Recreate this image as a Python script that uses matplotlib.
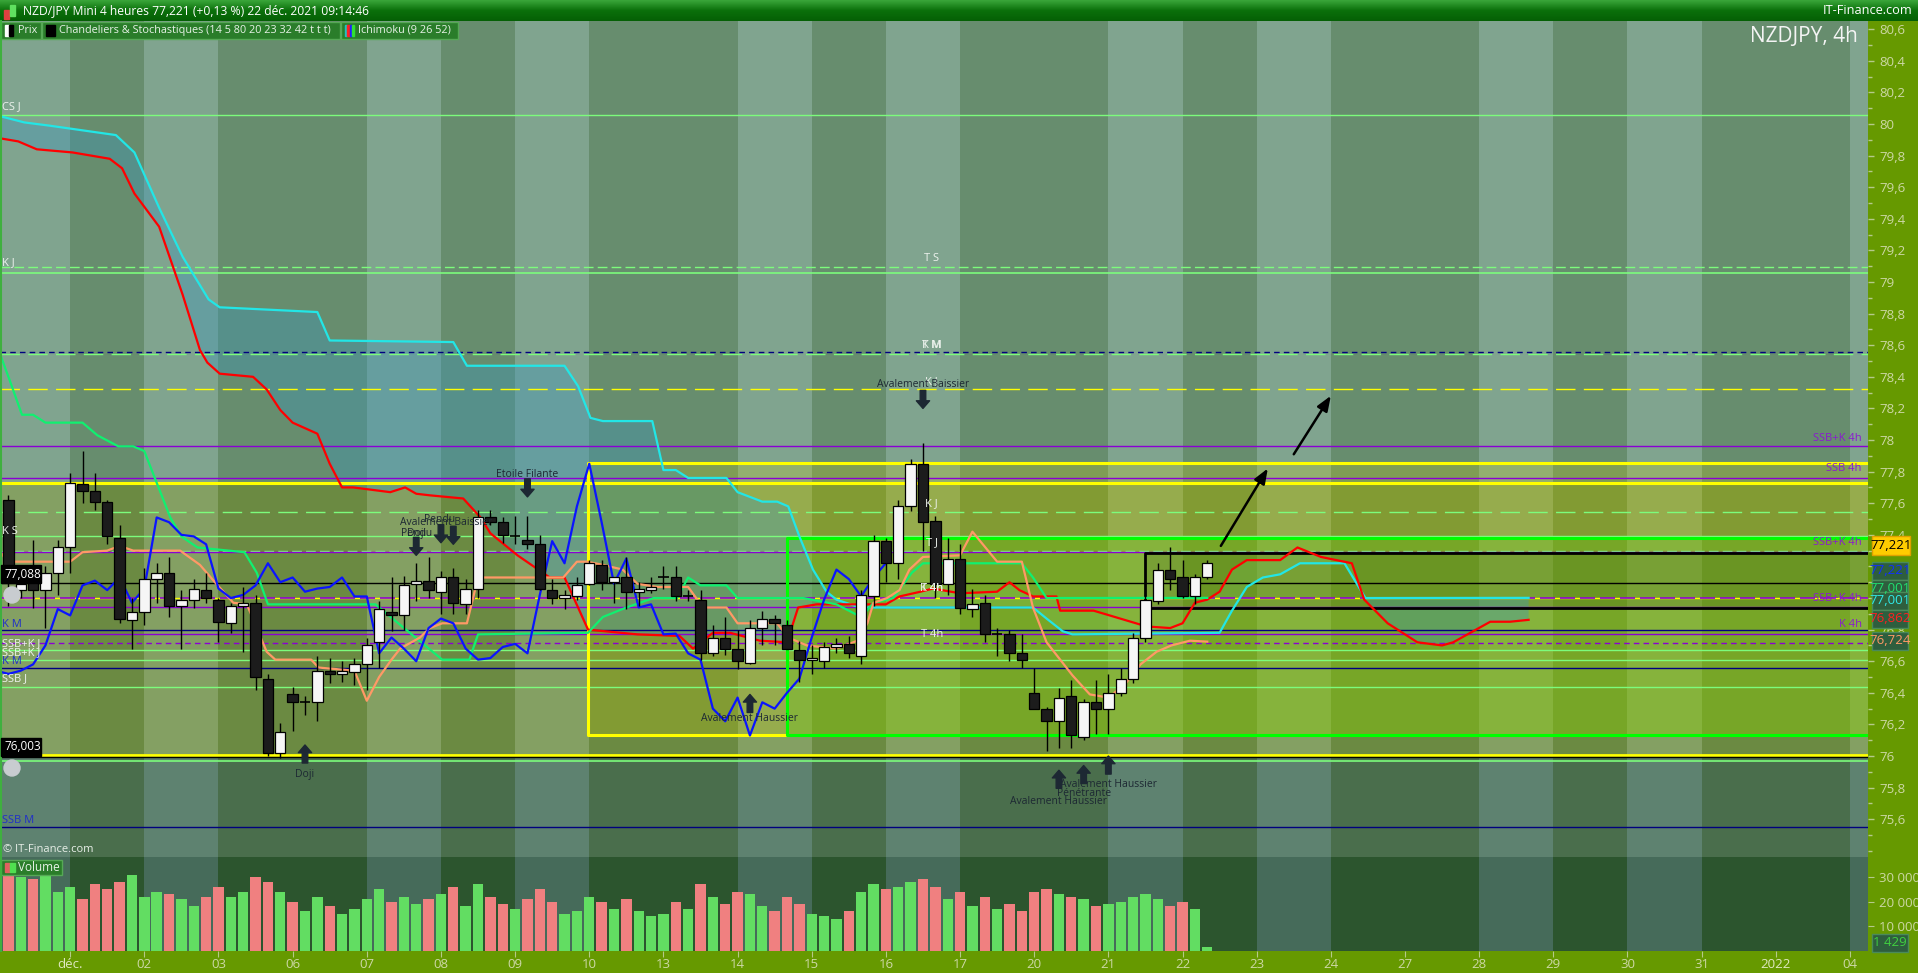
import numpy as np
import pandas as pd
import matplotlib
matplotlib.use("Agg")
import matplotlib.pyplot as plt
from matplotlib.patches import Rectangle
from matplotlib.ticker import FixedLocator, FuncFormatter, MultipleLocator
from matplotlib.colors import LinearSegmentedColormap

plt.rcParams['font.family'] = ['Open Sans', 'DejaVu Sans']

W, H = 1918, 973

# ---------------- data ----------------
days = pd.bdate_range('2021-11-30', '2022-01-04')      # one day = 6 candles of 4h
day_labels = ['déc.' if d.day == 1 else ('2022' if (d.month == 1 and d.day == 3) else f'{d.day:02d}')
              for d in days]

opens = [77.62, 77.05, 77.11, 77.05, 77.16, 77.32, 77.72, 77.68, 77.61, 77.38,
         76.86, 76.91, 77.12, 77.16, 76.95, 76.99, 77.05, 76.99, 76.84, 76.95,
         76.97, 76.49, 76.02, 76.39, 76.34, 76.34, 76.54, 76.52, 76.53, 76.58,
         76.72, 76.91, 76.89, 77.09, 77.11, 77.04, 77.13, 76.96, 77.06, 77.51,
         77.48, 77.39, 77.37, 77.34, 77.05, 77.00, 77.01, 77.09, 77.21, 77.10,
         77.13, 77.04, 77.05, 77.13, 77.13, 77.01, 76.99, 76.65, 76.75, 76.68,
         76.59, 76.81, 76.87, 76.83, 76.67, 76.61, 76.60, 76.69, 76.71, 76.63,
         77.01, 77.36, 77.22, 77.58, 77.85, 77.49, 77.09, 77.25, 76.93, 76.97,
         76.77, 76.77, 76.65, 76.40, 76.30, 76.22, 76.38, 76.12, 76.34, 76.30,
         76.40, 76.49, 76.75, 76.98, 77.18, 77.13, 77.01, 77.13]
highs = [77.65, 77.15, 77.37, 77.20, 77.37, 77.79, 77.93, 77.79, 77.62, 77.46,
         77.00, 77.19, 77.22, 77.26, 77.05, 77.12, 77.16, 77.00, 76.97, 77.07,
         77.02, 76.52, 76.21, 76.44, 76.38, 76.63, 76.62, 76.60, 76.62, 76.75,
         76.98, 77.13, 77.14, 77.22, 77.26, 77.17, 77.19, 77.12, 77.56, 77.56,
         77.51, 77.52, 77.52, 77.40, 77.12, 77.05, 77.13, 77.24, 77.24, 77.13,
         77.26, 77.10, 77.13, 77.20, 77.20, 77.05, 77.05, 76.83, 76.88, 76.80,
         76.86, 76.92, 76.89, 76.86, 76.73, 76.70, 76.72, 76.75, 76.76, 77.05,
         77.40, 77.38, 77.62, 77.88, 77.98, 77.52, 77.38, 77.34, 77.06, 77.02,
         76.81, 76.80, 76.77, 76.56, 76.31, 76.43, 76.48, 76.36, 76.48, 76.52,
         76.56, 76.78, 77.02, 77.22, 77.32, 77.24, 77.15, 77.24]
lows = [76.95, 77.00, 76.94, 76.81, 77.02, 77.16, 77.60, 77.56, 77.34, 76.84,
        76.68, 76.83, 76.97, 76.88, 76.68, 76.94, 76.97, 76.72, 76.78, 76.66,
        76.42, 76.00, 75.99, 76.16, 76.26, 76.22, 76.46, 76.47, 76.45, 76.42,
        76.56, 76.79, 76.80, 76.98, 77.00, 76.90, 76.90, 76.90, 77.00, 77.46,
        77.35, 77.34, 77.31, 77.05, 76.96, 76.93, 76.99, 77.08, 77.05, 76.97,
        76.93, 76.95, 77.03, 77.06, 76.98, 76.98, 76.61, 76.63, 76.64, 76.55,
        76.58, 76.70, 76.70, 76.68, 76.47, 76.52, 76.56, 76.65, 76.62, 76.58,
        76.95, 77.10, 77.12, 77.55, 77.30, 77.00, 77.02, 76.90, 76.88, 76.72,
        76.63, 76.60, 76.56, 76.30, 76.03, 76.05, 76.05, 76.10, 76.14, 76.14,
        76.38, 76.46, 76.72, 76.96, 77.05, 77.00, 76.96, 77.12]
closes = [77.12, 77.09, 77.05, 77.16, 77.32, 77.73, 77.68, 77.61, 77.39, 76.87,
          76.91, 77.12, 77.16, 76.95, 76.99, 77.06, 77.00, 76.85, 76.95, 76.97,
          76.50, 76.02, 76.15, 76.34, 76.345, 76.54, 76.52, 76.54, 76.58, 76.70,
          76.93, 76.89, 77.08, 77.11, 77.05, 77.13, 76.97, 77.06, 77.51, 77.48,
          77.40, 77.39, 77.34, 77.06, 77.00, 77.02, 77.08, 77.22, 77.10, 77.13,
          77.04, 77.06, 77.07, 77.13, 77.01, 77.01, 76.65, 76.75, 76.68, 76.60,
          76.81, 76.87, 76.84, 76.68, 76.61, 76.62, 76.69, 76.71, 76.65, 77.02,
          77.36, 77.22, 77.58, 77.85, 77.48, 77.09, 77.25, 76.94, 76.96, 76.77,
          76.775, 76.65, 76.61, 76.30, 76.22, 76.37, 76.13, 76.34, 76.30, 76.40,
          76.49, 76.75, 76.99, 77.18, 77.12, 77.01, 77.13, 77.221]
volumes = [31000, 30000, 29000, 31500, 24000, 26000, 21000, 27000, 25000, 28000,
           31000, 22000, 24000, 23000, 21000, 18000, 22000, 26000, 22000, 24000,
           30000, 28000, 24000, 20000, 16000, 22000, 18000, 15000, 17000, 21000,
           25000, 20000, 22000, 19000, 21000, 23000, 26000, 18000, 27000, 22000,
           19000, 17000, 21000, 25000, 20000, 15000, 16000, 22000, 20000, 17000,
           21000, 16000, 14000, 15000, 20000, 17000, 27000, 22000, 19000, 24000,
           23000, 18000, 16000, 22000, 19000, 15000, 14000, 13000, 16000, 24000,
           27000, 25000, 26000, 28000, 29000, 26000, 21000, 24000, 18000, 22000,
           17000, 19000, 16000, 24000, 25000, 23000, 22000, 21000, 18000, 19000,
           20000, 22000, 23000, 21000, 18000, 20000, 17000, 1429]
first_u = 1                       # candle slot index of first visible candle

# Ichimoku lines: (slot index, price)
tenkan_u = [0.3, 0.9, 6, 7, 9, 10, 11.1, 14.9, 16.5, 17.6, 19.2, 20.3, 21.9, 22.6, 25.5, 26.1, 29, 30,
            31, 32, 32.7, 34.3, 35.1, 36.1, 38.1, 39, 45.9, 47, 47.8, 49.1, 50.7, 51.9, 53.5, 56, 57.2,
            59.1, 60, 63.2, 64.1, 65.6, 68, 69.7, 70.5, 71, 72.1, 73.1, 73.9, 75, 78, 79, 81, 83, 83.9,
            85, 86.1, 87.1, 88.5, 90, 91.3, 92.6, 93.9, 95.1, 96.6, 98]
tenkan_p = [77.30, 77.23, 77.23, 77.29, 77.30, 77.33, 77.30, 77.30, 77.21, 77.11, 76.97, 76.96, 76.66,
            76.61, 76.61, 76.56, 76.54, 76.35, 76.50, 76.61, 76.68, 76.75, 76.81, 76.84, 76.84, 77.13,
            77.13, 77.23, 77.23, 77.21, 77.18, 77.09, 77.07, 77.07, 76.94, 76.94, 76.84, 76.84, 76.75,
            76.70, 76.68, 76.73, 76.84, 76.97, 77.00, 77.05, 77.18, 77.26, 77.27, 77.42, 77.23, 77.23,
            76.94, 76.72, 76.61, 76.51, 76.39, 76.37, 76.45, 76.58, 76.66, 76.70, 76.73, 76.724]
kijun_u = [0.3, 1.1, 2.1, 3, 4, 7, 8.2, 9.9, 11.1, 12, 13, 14.1, 15, 16.3, 20.1, 21.1, 22, 30.7, 36.1,
           38.3, 39, 47.9, 49.1, 51, 53.2, 55.1, 56, 57, 59.1, 60, 65.3, 68, 70, 71, 72.6, 74.1, 75, 83,
           83.9, 85, 98]
kijun_p = [78.55, 78.38, 78.16, 78.16, 78.11, 78.11, 78.03, 77.96, 77.96, 77.93, 77.73, 77.51, 77.39,
           77.32, 77.29, 77.16, 76.96, 76.96, 76.61, 76.61, 76.77, 76.78, 76.88, 76.94, 77.00, 77.00,
           77.13, 77.08, 77.08, 77.00, 77.00, 76.96, 76.88, 76.97, 77.00, 77.16, 77.22, 77.22, 77.13,
           77.00, 77.001]
ssa_u = [0.3, 1.8, 3.3, 6.2, 9.2, 10.2, 11.2, 13.2, 15.1, 16.5, 17.1, 18.1, 20.8, 21.9, 23, 24, 26, 27,
         28, 28.9, 31.9, 33.1, 34, 35.1, 37.8, 39.2, 40, 42.2, 44.8, 46, 47.9, 51.9, 55.3, 56.4, 58,
         59.4, 61.8, 64, 64.9, 66.4, 72, 73.1, 74.8, 75.8, 78, 81, 82, 82.8, 83.9, 85.8, 86.1, 88.8,
         90.1, 93.1, 95, 96, 97, 98, 99, 100, 101.2, 103.9, 105.3, 107.2, 109.7, 110.7, 112.6, 115,
         117, 117.9, 120.9, 122.5, 124]
ssa_p = [79.91, 79.89, 79.84, 79.82, 79.78, 79.72, 79.56, 79.35, 78.92, 78.57, 78.49, 78.42, 78.40,
         78.32, 78.19, 78.11, 78.04, 77.85, 77.70, 77.70, 77.67, 77.70, 77.66, 77.65, 77.63, 77.51,
         77.41, 77.27, 77.13, 77.13, 76.80, 76.77, 76.76, 76.68, 76.78, 76.78, 76.73, 76.72, 76.94,
         76.96, 76.96, 77.01, 77.04, 77.06, 77.03, 77.04, 77.10, 77.05, 77.01, 77.01, 76.92, 76.92,
         76.89, 76.82, 76.81, 76.84, 76.97, 76.99, 77.04, 77.18, 77.24, 77.24, 77.32, 77.26, 77.22,
         76.99, 76.84, 76.72, 76.70, 76.72, 76.85, 76.85, 76.862]
ssb_u = [0.3, 2.3, 4.3, 9.7, 11.2, 13.2, 15.1, 17.2, 18.1, 26, 27, 37, 38.1, 46, 47.1, 48.1, 49.1,
         53.1, 54, 55, 56, 59.1, 60, 62, 63.2, 64.1, 65, 66.1, 67.2, 68, 69.9, 83.9, 85, 86.3, 87.1,
         99, 100, 101.2, 102.5, 103.9, 105.5, 109.1, 110.8, 124]
ssb_p = [80.05, 80.01, 79.99, 79.93, 79.82, 79.47, 79.16, 78.89, 78.84, 78.81, 78.63, 78.62, 78.47,
         78.47, 78.34, 78.14, 78.12, 78.12, 77.81, 77.81, 77.76, 77.76, 77.67, 77.61, 77.61, 77.58,
         77.39, 77.18, 77.04, 76.99, 76.94, 76.94, 76.87, 76.79, 76.77, 76.78, 76.92, 77.07, 77.13,
         77.15, 77.22, 77.22, 77.00, 77.001]
chikou_shift = 26

# horizontal levels: (price, colour, style, width)
levels = [
    (80.06, '#7cfc7c', '-', 1.0), (79.095, '#7cfc7c', (0, (7, 3)), 1.0), (79.06, '#7cfc7c', '-', 1.2),
    (78.545, '#7cfc7c', (0, (14, 6)), 1.0), (78.555, '#00007f', (0, (4, 3)), 1.0),
    (78.32, '#ffff00', (0, (14, 6)), 1.0), (77.96, '#8a00d4', '-', 1.0), (77.76, '#8a00d4', '-', 1.0),
    (77.73, '#ffff00', '-', 2.2), (77.545, '#7cfc7c', (0, (14, 6)), 1.0), (77.39, '#7cfc7c', '-', 1.0),
    (77.30, '#7cfc7c', (0, (7, 3)), 1.0), (77.29, '#8a00d4', '-', 1.0), (77.095, '#000000', '-', 1.0),
    (77.0, '#ffff00', '-', 1.0), (77.0, '#8a00d4', (0, (9, 3)), 1.2), (76.945, '#8a00d4', '-', 1.0),
    (76.80, '#00007f', '-', 1.0), (76.77, '#8a00d4', '-', 1.0), (76.715, '#8a00d4', (0, (4, 3)), 1.0),
    (76.67, '#7cfc7c', '-', 1.0), (76.61, '#7cfc7c', '-', 1.0), (76.56, '#00007f', '-', 1.0),
    (76.44, '#7cfc7c', '-', 1.0), (76.006, '#ffff00', '-', 2.0), (75.993, '#000000', '-', 1.0),
    (75.97, '#7cfc7c', '-', 1.2), (75.55, '#00007f', '-', 1.0),
]
# zones drawn as boxes: (first slot, low, high)
yellow_box = (47.9, 76.13, 77.855)
green_box = (64.0, 76.13, 77.38)
black_box = (93.0, 76.94, 77.285)

# ---------------- figure layout ----------------
fig = plt.figure(figsize=(W / 100, H / 100), dpi=100, facecolor='#669900')


def px_axes(x0, y0, x1, y1):
    return fig.add_axes([x0 / W, 1 - y1 / H, (x1 - x0) / W, (y1 - y0) / H])


ax = px_axes(0, 21, 1868, 857)
axv = px_axes(0, 857, 1868, 951)
XMIN, XMAX = 0.324, 151.46
ax.set_xlim(XMIN, XMAX)
ax.set_ylim(75.361, 80.652)
axv.set_xlim(XMIN, XMAX)
axv.set_ylim(-200, 38160)
for a in (ax, axv):
    for s in a.spines.values():
        s.set_visible(False)
    a.set_facecolor('none')

light_day = [d.weekday() in (1, 3) for d in days]
ndays = len(days) + 1


def shade(a, u0, u1, p0, p1, dark, light, z=0):
    for d in range(ndays):
        lt = light_day[d] if d < len(days) else True
        x0, x1 = max(6 * d, u0), min(6 * d + 6, u1)
        if x1 > x0:
            a.add_patch(Rectangle((x0, p0), x1 - x0, p1 - p0, color=light if lt else dark,
                                  lw=0, zorder=z))


shade(ax, 0, 160, 75.0, 81.0, '#678d6e', '#80a48f')
shade(ax, 0, 160, 75.0, 76.0, '#4a6e4c', '#5e8270', 0.1)
shade(ax, 0, 160, 76.0, 77.73, '#6b8a42', '#84a063', 0.2)
shade(axv, 0, 160, -1000, 50000, '#2c552e', '#466b5a')

ax.add_patch(Rectangle((yellow_box[0], yellow_box[1]), 160, yellow_box[2] - yellow_box[1],
                       color='#d8d800', alpha=0.22, lw=0, zorder=0.5))
ax.add_patch(Rectangle((green_box[0], green_box[1]), 160, green_box[2] - green_box[1],
                       color='#50d000', alpha=0.22, lw=0, zorder=0.6))
ax.add_patch(Rectangle((black_box[0], black_box[1]), 160, black_box[2] - black_box[1],
                       color='#000000', alpha=0.1, lw=0, zorder=0.7))

# cloud
g = np.linspace(0.3, 124, 3000)
a_ = np.interp(g, ssa_u, ssa_p)
b_ = np.interp(g, ssb_u, ssb_p)
ax.fill_between(g, a_, b_, where=b_ >= a_, color='#3a96bc', alpha=0.36, lw=0, interpolate=True, zorder=0.8)
ax.fill_between(g, a_, b_, where=b_ < a_, color='#7fd06a', alpha=0.25, lw=0, interpolate=True, zorder=0.8)

# levels
for p, c, ls, lw in levels:
    ax.axhline(p, color=c, ls=ls, lw=lw, zorder=1)

# boxes outlines
yb, gb, bb = yellow_box, green_box, black_box
ax.plot([XMAX + 1, yb[0], yb[0], gb[0]], [yb[2], yb[2], yb[1], yb[1]], color='#ffff00', lw=2.2, zorder=1.2)
ax.plot([XMAX + 1, gb[0], gb[0], XMAX + 1], [gb[2], gb[2], gb[1], gb[1]], color='#00ff00', lw=2.2, zorder=1.2)
ax.plot([XMAX + 1, bb[0], bb[0], XMAX + 1], [bb[2], bb[2], bb[1], bb[1]], color='#000000', lw=2.0, zorder=1.2)

# ichimoku
ax.plot(ssb_u, ssb_p, color='#22e6e6', lw=1.6, zorder=2)
ax.plot(ssa_u, ssa_p, color='#ff0000', lw=1.6, zorder=2)
ax.plot(kijun_u, kijun_p, color='#10f070', lw=1.6, zorder=2)
ax.plot(tenkan_u, tenkan_p, color='#ff9966', lw=1.6, zorder=2)
u = np.arange(first_u, first_u + len(closes))
ax.plot(u[u >= chikou_shift] - chikou_shift, np.array(closes)[u >= chikou_shift],
        color='#0a14ff', lw=1.6, zorder=2.1)

# candles
for x, o, h, l, c in zip(u, opens, highs, lows, closes):
    ax.vlines(x, l, h, color='black', lw=1.0, zorder=3)
    lo, hi = min(o, c), max(o, c)
    if hi - lo < 0.006:
        ax.hlines((o + c) / 2, x - 0.42, x + 0.42, color='black', lw=1.2, zorder=3.1)
    else:
        ax.add_patch(Rectangle((x - 0.42, lo), 0.84, hi - lo, facecolor='#f6f6f6' if c >= o else '#1c1c1c',
                               edgecolor='black', lw=0.9, zorder=3.1))

# volume
vcol = ['#62dd62' if c >= o else '#f08080' for o, c in zip(opens, closes)]
axv.bar(u, volumes, width=0.84, color=vcol, zorder=2)

# ---------------- axes ticks ----------------
ax.yaxis.tick_right()
ax.yaxis.set_major_locator(FixedLocator(np.round(np.arange(75.6, 80.61, 0.2), 1)))
ax.yaxis.set_minor_locator(MultipleLocator(0.1))
ax.yaxis.set_major_formatter(FuncFormatter(lambda v, _: (f'{v:.1f}'.replace('.0', '') if abs(v - round(v)) < 1e-6
                                                         else f'{v:.1f}').replace('.', ',')))
ax.tick_params(axis='y', which='both', colors='#b5c98a', labelcolor='#cdd8a6', labelsize=9.5,
               length=4, width=1, pad=4, direction='out')
ax.tick_params(axis='y', which='minor', length=3)
ax.set_xticks([])

axv.yaxis.tick_right()
axv.set_yticks([10000, 20000, 30000])
axv.set_yticklabels(['10 000', '20 000', '30 000'])
axv.tick_params(axis='y', colors='#b5c98a', labelcolor='#cdd8a6', labelsize=9.5, length=4, pad=4)
axv.set_xticks([6 * d for d in range(1, len(days))])
axv.set_xticklabels(day_labels[1:])
axv.tick_params(axis='x', colors='#b5c98a', labelcolor='#cdd8a6', labelsize=9.5, length=4, pad=1)
for t in axv.get_xticklabels():
    if t.get_text() in ('déc.', '2022'):
        t.set_color('#dfe8c0')

# ---------------- labels on the price panel ----------------
white = '#eef3ee'
left_labels = [('CS J', 80.11, white), ('K J', 79.12, white), ('K S', 77.42, white), ('K M', 76.83, '#2030c8'),
               ('SSB+K J', 76.71, white), ('SSB+K J', 76.655, white), ('K M', 76.60, '#2030c8'),
               ('SSB J', 76.49, white), ('SSB M', 75.59, '#2030c8')]
for s, p, c in left_labels:
    ax.text(0.45, p, s, color=c, fontsize=8, va='center', ha='left', zorder=5)
mid_labels = [('T S', 79.15), ('T M', 78.60), ('K M', 78.60), ('K J', 78.37), ('K J', 77.60),
              ('T J', 77.35), ('K 4h', 77.06), ('T 4h', 77.06), ('T 4h', 76.77)]
for s, p in mid_labels:
    ax.text(75.7, p, s, color=white, fontsize=8, va='center', ha='center', zorder=5)
right_labels = [('SSB+K 4h', 78.01), ('SSB 4h', 77.82), ('SSB+K 4h', 77.35), ('SSB+K 4h', 77.0), ('K 4h', 76.83)]
for s, p in right_labels:
    ax.text(XMAX - 0.5, p, s, color='#8a1ad0', fontsize=8, va='center', ha='right', zorder=5)

# candle patterns: (name, slot, text price, arrow tip price, pointing up)
pat_col = '#1d2833'


def arrow(x, tip, up):
    ax.annotate('', xy=(x, tip), xytext=(0, -13 if up else 13), textcoords='offset points',
                arrowprops=dict(arrowstyle='simple,head_length=0.55,head_width=0.95,tail_width=0.4',
                                color=pat_col, shrinkA=0, shrinkB=0), zorder=6)


patterns = [('Avalement Baissier', 75, 78.35, 78.20, False), ('Etoile Filante', 43, 77.78, 77.64, False),
            ('Pendu', 35.9, 77.50, None, False), ('Avalement Baissier', 36.4, 77.48, None, False),
            ('Pendu', 34, 77.41, 77.27, False), ('Doji', 34, 77.41, None, False),
            ('', 36, None, 77.35, False), ('', 37, None, 77.34, False),
            ('Doji', 25, 75.88, 76.07, True), ('Avalement Haussier', 61, 76.24, 76.39, True),
            ('Avalement Haussier', 90, 75.82, 76.00, True), ('Pénétrante', 88, 75.76, 75.94, True),
            ('Avalement Haussier', 86, 75.71, 75.91, True)]
for s, x, pt, tip, up in patterns:
    if s:
        ax.text(x, pt, s, color=pat_col, fontsize=7.5, ha='center', va='center', zorder=6)
    if tip is not None:
        arrow(x, tip, up)

for x0, p0, x1, p1 in [(99.1, 77.33, 102.9, 77.82), (105.0, 77.91, 108.0, 78.28)]:
    ax.annotate('', xy=(x1, p1), xytext=(x0, p0),
                arrowprops=dict(arrowstyle='-|>,head_length=0.9,head_width=0.35', color='black', lw=1.8,
                                shrinkA=0, shrinkB=0), zorder=6)

# ---------------- overlay: header, legends, value boxes ----------------
ov = fig.add_axes([0, 0, 1, 1], facecolor='none')
ov.set_xlim(0, W)
ov.set_ylim(H, 0)
ov.axis('off')

grad = LinearSegmentedColormap.from_list('hdr', ['#3aa63a', '#0b700b', '#056005'])
ov.imshow(np.linspace(0, 1, 40).reshape(-1, 1), cmap=grad, aspect='auto', extent=(0, W, 21, 0), zorder=1)
ov.add_patch(Rectangle((4, 10), 5, 9, color='#e04040', zorder=2))
ov.add_patch(Rectangle((10, 5), 5, 11, color='#60e060', zorder=2))
ov.text(23, 11, 'NZD/JPY Mini 4 heures 77,221 (+0,13 %) 22 déc. 2021 09:14:46', color='white',
        fontsize=8.7, va='center', ha='left', zorder=3)
ov.text(1913, 11, 'IT-Finance.com', color='white', fontsize=9.2, va='center', ha='right', zorder=3)
ov.text(1858, 37, 'NZDJPY, 4h', color='#f4f4f4', fontsize=15, va='center', ha='right', zorder=3)

for x0, x1, s in [(1, 41, 'Prix'), (42, 340, 'Chandeliers & Stochastiques (14 5 80 20 23 32 42 t t t)'),
                  (341, 458, 'Ichimoku (9 26 52)')]:
    ov.add_patch(Rectangle((x0, 22), x1 - x0, 17, facecolor='#2a7d2a', edgecolor='#56a856', lw=1, zorder=2))
    ov.text(x0 + 17, 30.5, s, color='#e6f2e6', fontsize=7.8, va='center', ha='left', zorder=3)
ov.add_patch(Rectangle((5, 25), 4, 11, color='white', zorder=3))
ov.add_patch(Rectangle((9, 25), 4, 11, color='black', zorder=3))
ov.add_patch(Rectangle((46, 25), 9, 11, color='black', zorder=3))
for i, c in enumerate(['#20c0c0', '#ff2020', '#2020ff', '#30e030']):
    ov.add_patch(Rectangle((345 + 2.3 * i, 25), 2.3, 11, color=c, zorder=3))

ov.text(3, 850, '© IT-Finance.com', color='#e8efe8', fontsize=8, va='center', ha='left', zorder=3)
ov.add_patch(Rectangle((1, 860), 61, 15, facecolor='#2a7d2a', edgecolor='#56a856', lw=1, zorder=2))
ov.add_patch(Rectangle((5, 863), 5, 9, color='#e06060', zorder=3))
ov.add_patch(Rectangle((10, 863), 5, 9, color='#50e050', zorder=3))
ov.text(18, 867.5, 'Volume', color='#e6f2e6', fontsize=8.5, va='center', ha='left', zorder=3)

for s, yc in [('77,088', 574), ('76,003', 747)]:
    ov.add_patch(Rectangle((1, yc - 9), 40, 18, color='black', zorder=3))
    ov.text(4, yc, s, color='white', fontsize=8.5, va='center', ha='left', zorder=4)
    ov.add_patch(plt.Circle((12, yc + 21), 8, color='#c8ccd0', zorder=3))

ov.add_patch(Rectangle((1872, 536), 38, 19, facecolor='#ffcc00', edgecolor='#e0a000', lw=1, zorder=3))
ov.text(1891, 545.5, '77,221', color='black', fontsize=9.5, va='center', ha='center', zorder=4)
for s, yc, c in [('77,221', 571, '#1030ff'), ('77,001', 589, '#20e070'), ('77,001', 601, '#30e8e8'),
                 ('76,862', 619, '#ff2020'), ('76,724', 641, '#ff9966'), ('1 429', 943, '#40d040')]:
    ov.add_patch(Rectangle((1872, yc - 9), 36, 18, facecolor='#2e5e3e', edgecolor='#4a8a5a', lw=1, zorder=3))
    ov.text(1890, yc, s, color=c, fontsize=9.5, va='center', ha='center', zorder=4)

ov.plot([1, 1], [21, 951], color='#3fb03f', lw=1.5, zorder=2)

fig.savefig('out.png', dpi=100, facecolor=fig.get_facecolor())
